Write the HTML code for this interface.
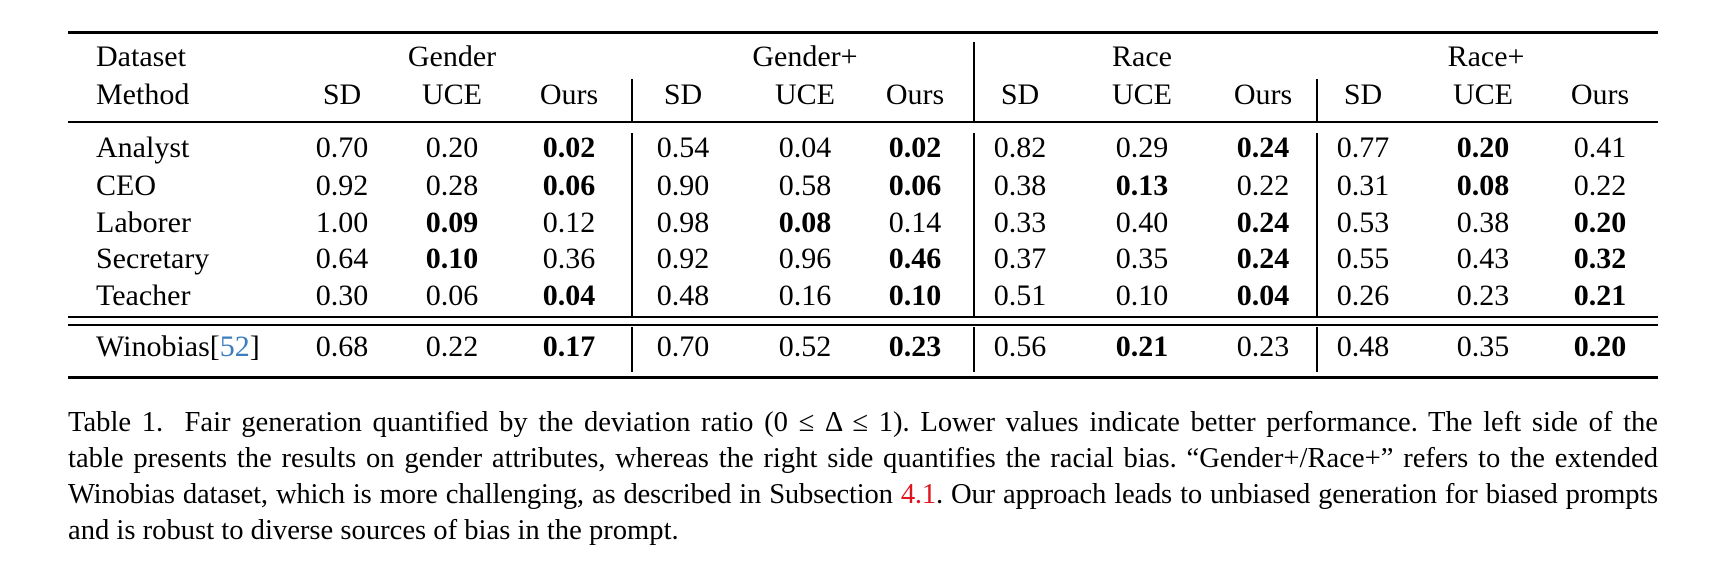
<!DOCTYPE html>
<html><head><meta charset="utf-8">
<style>
html,body{margin:0;padding:0;background:#fff;}
body{width:1727px;height:569px;position:relative;overflow:hidden;font-family:"Liberation Serif",serif;color:#000;}
.t{position:absolute;font-size:30px;line-height:30px;white-space:nowrap;}
.c{width:140px;text-align:center;}
.rule{position:absolute;background:#000;}
.cap{position:absolute;left:68px;width:1590px;font-size:28.6px;line-height:36px;height:36px;text-align:justify;text-align-last:justify;}
</style></head>
<body>
<div id="tbl"></div>
<div>
<div class="cap" style="top:405px">Table 1.&nbsp; Fair generation quantified by the deviation ratio (0 ≤ Δ ≤ 1). Lower values indicate better performance. The left side of the</div>
<div class="cap" style="top:441px">table presents the results on gender attributes, whereas the right side quantifies the racial bias. “Gender+/Race+” refers to the extended</div>
<div class="cap" style="top:477px;letter-spacing:-0.2px">Winobias dataset, which is more challenging, as described in Subsection <span style="color:#e0141c">4.1</span>. Our approach leads to unbiased generation for biased prompts</div>
<div class="cap" style="top:513px;text-align-last:left">and is robust to diverse sources of bias in the prompt.</div>
</div>
<script>
const groups=["Gender","Gender+","Race","Race+"];
const methods=["SD","UCE","Ours"];
const rowLabels=["Analyst","CEO","Laborer","Secretary","Teacher"];
const values=[
["0.70","0.20","0.02","0.54","0.04","0.02","0.82","0.29","0.24","0.77","0.20","0.41"],
["0.92","0.28","0.06","0.90","0.58","0.06","0.38","0.13","0.22","0.31","0.08","0.22"],
["1.00","0.09","0.12","0.98","0.08","0.14","0.33","0.40","0.24","0.53","0.38","0.20"],
["0.64","0.10","0.36","0.92","0.96","0.46","0.37","0.35","0.24","0.55","0.43","0.32"],
["0.30","0.06","0.04","0.48","0.16","0.10","0.51","0.10","0.04","0.26","0.23","0.21"]];
const bold=[
[0,0,1,0,0,1,0,0,1,0,1,0],
[0,0,1,0,0,1,0,1,0,0,1,0],
[0,1,0,0,1,0,0,0,1,0,0,1],
[0,1,0,0,0,1,0,0,1,0,0,1],
[0,0,1,0,0,1,0,0,1,0,0,1]];
const winoValues=["0.68","0.22","0.17","0.70","0.52","0.23","0.56","0.21","0.23","0.48","0.35","0.20"];
const winoBold=[0,0,1,0,0,1,0,1,0,0,0,1];

const colX=[342,452,569,683,805,915,1020,1142,1263,1363,1483,1600];
const groupX=[452,805,1142,1486];
const rowBase=[158,196,233,269,306];
const tbl=document.getElementById('tbl');
function txt(str,x,base,center,b,name){
  const d=document.createElement('div');
  d.className='t'+(center?' c':'');
  d.style.left=(center?x-70:x)+'px';
  d.style.top=(base-25)+'px';
  if(b) d.style.fontWeight='bold';
  d.innerHTML=str;
  
  
  tbl.appendChild(d);
}
function rule(x,y,w,h,name){
  const d=document.createElement('div');
  d.className='rule';
  d.style.cssText+=`left:${x}px;top:${y}px;width:${w}px;height:${h}px;`;
  
  
  tbl.appendChild(d);
}
rule(68,31,1590,3,'top-rule');
rule(68,121,1590,2,'header-rule');
rule(68,316,1590,2,'double-rule-top');
rule(68,324,1590,2,'double-rule-bottom');
rule(68,376,1590,3,'bottom-rule');
[631,973,1316].forEach((x,i)=>{
  const top=i===1?42:79;
  rule(x,top,1.5,121-top,'column-divider-header');
  rule(x,133,1.5,183,'column-divider-body');
  rule(x,327,1.5,45,'column-divider-winobias');
});
txt('Dataset',96,67,false,false,'dataset-label');
txt('Method',96,105,false,false,'method-label');
groups.forEach((g,i)=>txt(g,groupX[i],67,true,false,'group-header-'+g.toLowerCase().replace('+','-plus')));
colX.forEach((x,i)=>txt(methods[i%3],x,105,true,false,'method-header-'+methods[i%3].toLowerCase()));
rowLabels.forEach((r,ri)=>{
  txt(r,96,rowBase[ri],false,false,'row-label-'+r.toLowerCase());
  values[ri].forEach((v,ci)=>txt(v,colX[ci],rowBase[ri],true,bold[ri][ci],'cell-'+r.toLowerCase()+'-'+ci));
});
txt('Winobias[<span style="color:#3a7ebf">52</span>]',96,357,false,false,'row-label-winobias');
winoValues.forEach((v,ci)=>txt(v,colX[ci],357,true,winoBold[ci],'cell-winobias-'+ci));
</script>
</body></html>
